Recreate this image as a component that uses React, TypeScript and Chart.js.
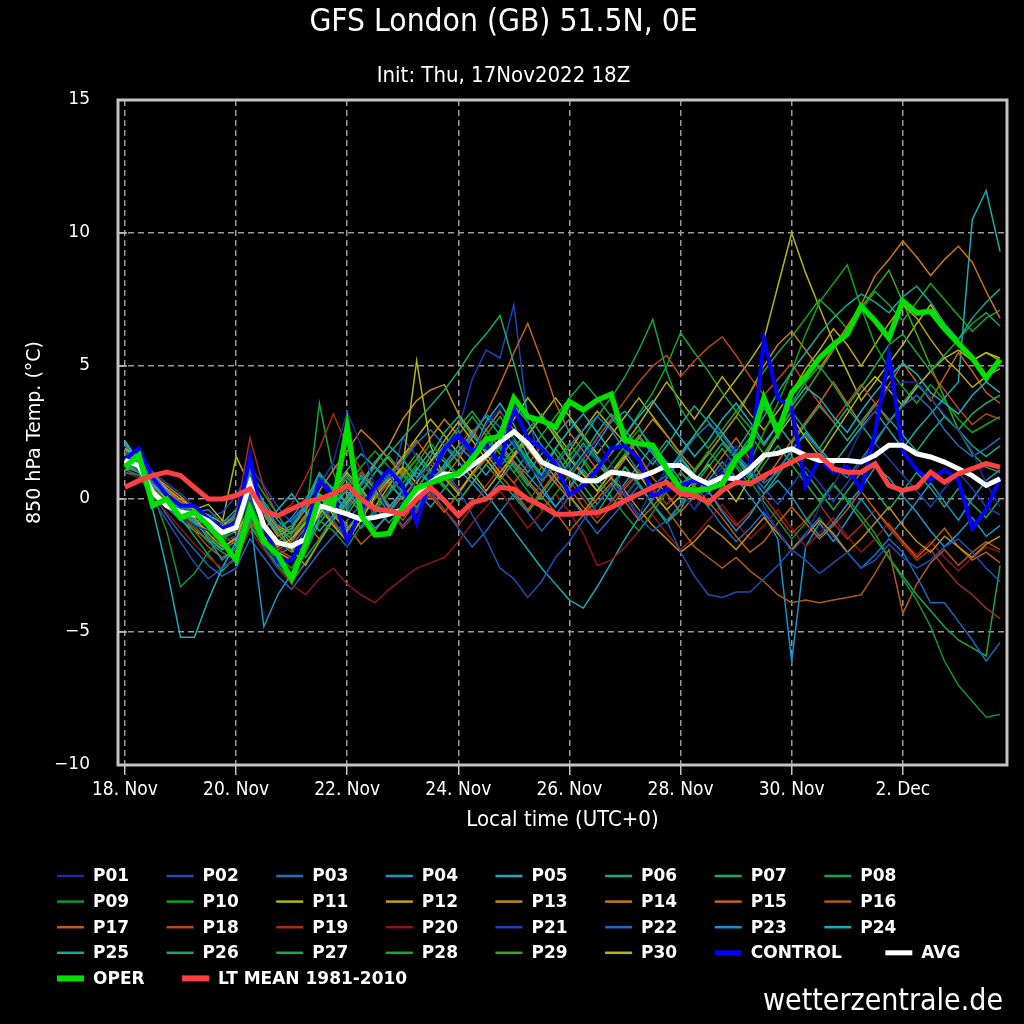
import React, { useEffect, useRef } from 'react';
import { Chart, registerables } from 'chart.js';

Chart.register(...registerables);

// ---------- axis categories ----------
const FORECAST_HOURS = [0, 6, 12, 18, 24, 30, 36, 42, 48, 54, 60, 66, 72, 78, 84, 90, 96, 102, 108, 114, 120, 126, 132, 138, 144, 150, 156, 162, 168, 174, 180, 186, 192, 198, 204, 210, 216, 222, 228, 234, 240, 246, 252, 258, 264, 270, 276, 282, 288, 294, 300, 306, 312, 318, 324, 330, 336, 342, 348, 354, 360, 366, 372, 378];
const TICK_HOURS = [0, 48, 96, 144, 192, 240, 288, 336];
const TICK_LABELS = ['18. Nov', '20. Nov', '22. Nov', '24. Nov', '26. Nov', '28. Nov', '30. Nov', '2. Dec'];
const Y_TICKS = [-10, -5, 0, 5, 10, 15];

// ---------- ensemble members ----------
const P01 = [1.6, 1.3, 0.4, -0.3, -0.7, -1.0, -1.2, -1.6, -1.4, 0.8, -0.9, -2.0, -1.7, -1.0, 0.5, 1.4, 3.3, 2.0, 0.5, -0.5, -0.1, 0.7, 1.3, 1.9, 2.3, 1.6, 2.8, 3.4, 2.1, 1.2, 0.8, 1.5, 0.9, 1.6, 2.2, 1.3, 0.2, -0.6, 0.4, 1.1, 0.3, -0.4, 0.6, 1.2, 2.0, 1.4, -0.3, -1.2, -2.0, -1.4, -0.3, 0.5, 1.5, 2.6, 3.3, 4.2, 4.4, 4.4, 3.8, 3.2, 2.6, 1.8, 0.6, -0.3];
const P02 = [1.4, 1.1, 0.0, -0.8, -1.6, -2.4, -3.0, -2.6, -2.2, 0.2, -1.8, -2.6, -2.2, -1.2, -0.2, -0.8, -1.5, -0.6, 0.3, 0.9, 0.2, -0.4, 0.6, 1.0, 0.4, -0.6, -1.5, -2.6, -3.0, -3.7, -3.1, -2.2, -1.6, -0.8, -0.2, 0.5, 0.1, -0.7, -1.2, -0.8, -2.0, -2.9, -3.6, -3.7, -3.5, -3.5, -3.0, -2.5, -1.9, -2.3, -2.8, -2.4, -2.0, -2.6, -2.3, -1.7, -2.2, -2.6, -2.3, -1.8, -1.5, -2.0, -2.6, -3.1];
const P03 = [1.8, 1.5, 0.6, 0.2, -0.3, -0.5, -0.4, -0.9, -0.6, 1.1, -0.3, -1.0, -0.8, -0.2, 0.6, 0.1, -0.3, 0.5, 1.2, 0.8, 1.4, 2.1, 2.6, 2.0, 1.6, 2.4, 3.2, 2.7, 2.0, 1.3, 0.7, 1.2, 2.0, 2.6, 3.1, 2.6, 1.8, 1.0, 0.5, 0.9, 1.6, 2.3, 2.8, 2.4, 1.7, 1.1, 0.6, 1.0, 1.9, 2.4, 1.8, 1.2, 0.8, 1.5, 2.2, 2.9, 3.5, 3.9, 3.4, 2.6, 2.0, 1.6, 1.9, 2.3];
const P04 = [2.0, 1.6, 0.9, 0.3, -0.4, -0.8, -1.5, -2.3, -1.8, -0.6, -4.8, -3.6, -2.8, -1.9, -0.7, -0.2, 0.3, -0.4, -1.1, -0.6, 0.4, 1.0, 0.6, 1.3, 2.0, 1.5, 0.9, 1.6, 2.2, 1.4, 0.5, -0.3, 0.4, 1.3, 2.1, 2.9, 3.3, 2.7, 1.8, 1.1, 0.5, 0.9, 0.3, -0.5, -1.2, -0.6, 0.2, 0.7, 0.1, -0.7, -1.4, -0.9, -0.2, 0.4, 1.2, 0.8, 0.1, -0.5, -1.2, -1.8, -1.3, -0.7, -1.4, -1.0];
const P05 = [2.2, 1.4, -0.4, -2.6, -5.2, -5.2, -3.8, -2.6, -1.6, -0.5, -1.2, -0.4, 0.2, -0.5, -1.2, -0.6, 0.1, 0.9, 0.4, -0.3, 0.3, 1.1, 1.8, 1.4, 0.8, 1.7, 2.9, 3.6, 2.8, 1.6, 0.9, 1.9, 2.6, 3.2, 2.5, 1.8, 2.4, 3.1, 3.7, 3.0, 2.3, 1.6, 2.2, 3.0, 3.6, 2.9, 2.1, 2.8, 3.5, 4.2, 3.8, 3.1, 2.5, 3.3, 4.0, 4.6, 5.1, 4.7, 4.0, 3.6, 3.2, 3.9, 4.4, 4.0];
const P06 = [1.5, 1.2, 0.5, 0.1, -0.4, -0.9, -0.6, -1.1, -0.7, 0.6, -0.5, -1.3, -1.0, -0.3, 0.9, 0.4, -0.2, 0.6, 1.4, 2.0, 1.5, 0.8, 1.6, 2.5, 3.1, 2.4, 1.8, 2.6, 3.5, 2.9, 2.0, 1.4, 1.0, 1.7, 2.5, 3.2, 2.6, 1.9, 1.3, 2.0, 2.8, 3.5, 2.9, 2.2, 1.6, 2.3, 3.1, 4.0, 4.8, 5.5, 6.2, 6.8, 7.3, 7.7, 7.4, 7.0, 7.6, 8.0, 7.4, 6.6, 6.0, 6.8, 7.4, 7.9];
const P07 = [1.3, 1.0, 0.3, -0.2, -0.8, -0.6, -1.0, -1.4, -1.1, 0.4, -0.9, -1.6, -1.2, -0.1, 1.0, 0.3, -0.6, 0.2, 1.0, 1.7, 2.3, 2.9, 3.5, 4.1, 4.8, 5.6, 6.2, 6.9, 5.1, 3.2, 2.4, 1.7, 0.9, 0.2, -0.5, 0.3, 1.2, 0.6, -0.2, -0.9, -0.4, 0.6, 1.4, 2.1, 1.5, 0.8, 1.6, 2.5, 3.3, 2.6, 1.9, 2.7, 3.4, 2.8, 2.1, 2.9, 3.6, 4.3, 3.8, 3.1, 2.6, 3.2, 3.6, 3.9];
const P08 = [1.7, 1.4, 0.7, 0.2, -0.2, -0.5, -0.9, -1.2, -0.8, 1.0, 0.2, -0.6, -1.4, -2.2, -1.5, -0.7, 0.0, 0.8, 0.2, -0.5, 0.4, 1.2, 0.6, 1.1, 1.8, 2.4, 1.9, 1.2, 1.9, 2.6, 3.2, 2.4, 1.6, 2.3, 3.1, 3.8, 4.6, 5.6, 6.75, 4.8, 3.4, 2.6, 1.9, 2.6, 3.3, 2.7, 2.0, 2.8, 3.6, 4.4, 5.0, 4.3, 3.5, 4.2, 5.0, 5.8, 6.2, 5.5, 4.8, 5.4, 6.0, 6.6, 7.0, 6.5];
const P09 = [1.0, 0.9, 0.2, -1.2, -3.3, -2.8, -2.0, -1.5, -1.0, 0.1, -1.5, -2.2, -2.6, -1.7, -0.8, -1.2, -1.8, -1.0, -0.4, 0.2, 0.8, 1.5, 1.0, 0.4, 0.9, 1.6, 2.2, 1.7, 1.0, 0.3, -0.4, 0.2, 0.9, 1.5, 0.8, 0.1, -0.6, -1.2, -0.5, 0.3, 1.0, 0.4, -0.3, 0.5, 1.3, 0.7, -0.1, -0.8, -1.5, -0.9, -0.2, 0.5, 0.0, -0.6, -1.3, -2.2, -3.0, -3.8, -4.8, -6.1, -7.0, -7.6, -8.2, -8.1];
const P10 = [1.2, 1.1, 0.4, -0.1, -0.6, -1.1, -1.6, -2.0, -2.3, -1.0, -1.6, -2.4, -2.9, -2.0, -0.9, -0.2, 0.5, 1.2, 1.8, 1.2, 0.6, 1.3, 2.1, 1.5, 0.9, 1.6, 2.4, 3.1, 2.3, 1.5, 0.8, 1.4, 2.1, 1.4, 0.6, 1.3, 2.0, 2.6, 2.0, 1.2, 0.5, 1.1, 1.8, 1.2, 0.5, 1.4, 2.5, 3.6, 4.8, 6.2, 7.4, 8.1, 8.8, 7.2, 5.8, 4.9, 4.2, 3.6, 4.3, 3.7, 3.0, 2.5, 2.8, 3.1];
const P11 = [1.9, 1.6, 0.8, 0.4, 0.0, -0.4, -0.2, -0.8, -1.3, -0.4, -1.1, -1.8, -1.5, -0.9, -0.3, -1.0, -1.6, -0.8, 0.1, 0.7, 1.2, 5.2, 2.0, 0.8, 0.2, 1.0, 1.6, 2.2, 3.0, 3.8, 3.1, 2.3, 1.5, 0.9, 0.3, 1.0, 1.6, 0.9, 0.2, -0.4, 0.1, 0.7, 1.3, 0.6, -0.1, 0.8, 1.5, 2.4, 3.1, 2.3, 1.6, 2.4, 3.2, 4.0, 4.6, 4.1, 3.5, 4.2, 4.8, 5.3, 5.6, 5.2, 5.5, 5.3];
const P12 = [1.4, 1.3, 0.6, 0.0, -0.5, -0.7, -1.3, -1.8, -1.5, -0.2, -1.4, -2.0, -2.3, -1.4, -0.6, 0.3, 1.0, 0.4, -0.3, 0.5, 1.2, 0.6, 1.4, 2.2, 2.9, 2.2, 1.5, 0.8, 1.6, 2.4, 3.1, 2.5, 1.8, 2.6, 3.3, 2.7, 2.1, 2.8, 3.6, 4.4, 3.7, 3.0, 3.8, 4.6, 3.9, 3.2, 2.6, 3.3, 4.0, 4.9, 5.6, 6.4, 5.8, 5.0, 5.8, 6.6, 7.3, 6.8, 6.0, 5.3, 4.8, 4.2, 4.6, 4.9];
const P13 = [1.1, 1.2, 0.5, 0.0, -0.3, -0.8, -1.2, -1.0, -0.6, 0.7, -0.4, -1.1, -1.9, -2.5, -1.6, -0.8, -0.1, 0.6, 1.3, 2.0, 3.0, 3.7, 4.1, 4.3, 3.2, 2.5, 1.7, 1.0, 1.6, 2.2, 1.5, 0.8, 0.1, -0.5, 0.2, 0.8, 0.3, -0.4, -1.0, -1.5, -2.0, -1.6, -1.0, -1.4, -1.9, -1.3, -0.7, -1.3, -1.9, -1.4, -0.8, -1.3, -2.0, -1.5, -0.9, -0.3, -1.0, -1.6, -2.0, -1.4, -1.8, -2.2, -1.7, -1.4];
const P14 = [1.6, 1.5, 0.9, 0.5, 0.1, -0.4, -0.9, -1.3, -1.0, 0.3, -0.6, -1.4, -1.1, -0.4, 0.3, 1.1, 1.8, 2.6, 2.1, 1.5, 0.9, 1.5, 2.3, 3.0, 2.4, 1.8, 2.6, 3.3, 2.6, 1.9, 1.2, 0.6, 0.0, 0.7, 1.3, 0.8, 1.5, 2.3, 3.0, 2.4, 1.7, 1.1, 1.7, 2.4, 3.1, 4.0, 5.0, 5.8, 6.3, 5.6, 4.9, 5.7, 6.5, 7.3, 8.4, 9.0, 9.7, 9.1, 8.4, 9.0, 9.5, 8.9, 7.8, 6.8];
const P15 = [1.3, 1.4, 0.8, 0.3, -0.2, -0.5, -0.9, -1.6, -1.4, -0.3, -1.2, -1.9, -1.6, -0.9, -1.5, -0.7, 0.1, -0.5, 0.2, 0.9, 1.5, 2.2, 1.5, 0.8, 1.5, 2.3, 3.2, 4.3, 5.5, 6.6, 5.2, 3.6, 2.5, 1.8, 1.1, 1.7, 2.4, 1.6, 0.8, 0.2, -0.5, 0.1, 0.9, 1.6, 2.3, 1.5, 0.7, 1.4, 2.2, 2.9, 3.6, 4.4, 3.6, 2.8, 3.5, 4.3, 5.1, 4.4, 3.7, 4.6, 5.5, 4.8, 4.0, 3.6];
const P16 = [1.5, 1.3, 0.7, 0.2, -0.2, -0.6, -0.8, -1.4, -1.7, -0.8, -1.5, -2.1, -1.8, -1.0, -0.2, -0.9, -1.5, -0.6, 0.0, 0.6, 1.1, 0.6, 0.1, -0.5, 0.2, 0.9, 1.5, 0.9, 0.3, -0.4, 0.3, 1.0, 0.4, -0.3, -0.9, -0.3, 0.4, 1.0, 0.3, -0.4, -1.1, -1.8, -2.2, -2.6, -2.2, -2.7, -3.1, -3.6, -3.9, -3.8, -3.9, -3.8, -3.7, -3.6, -2.8, -1.9, -4.3, -3.2, -2.4, -1.9, -2.5, -2.0, -1.6, -1.9];
const P17 = [1.7, 1.5, 1.0, 0.4, -0.1, -0.3, -0.7, -1.1, -0.5, 0.8, -0.3, -1.0, -1.5, -0.6, 0.2, -0.4, -1.0, -1.7, -1.2, -0.5, 0.1, 0.7, 1.3, 0.9, 0.3, 0.9, 1.5, 2.1, 1.4, 0.7, 0.1, -0.5, -1.2, -0.6, 0.0, 0.6, -0.1, -0.8, -0.3, 0.4, 1.0, 0.5, -0.1, -0.7, -1.4, -2.0, -1.6, -0.9, -0.3, -0.9, -1.5, -1.0, -0.4, 0.3, -0.4, -1.0, -1.6, -2.2, -1.7, -1.1, -1.8, -2.3, -2.0, -2.4];
const P18 = [1.2, 1.0, 0.3, -0.2, -0.6, -1.2, -1.8, -2.2, -1.9, -0.9, -1.5, -1.9, -2.2, -1.5, -0.9, -0.3, 0.4, 1.0, 0.5, -0.2, -0.8, -0.1, 0.6, 1.3, 2.0, 2.6, 1.9, 1.2, 0.6, 1.3, 2.0, 1.4, 0.8, 1.5, 2.3, 3.0, 3.7, 4.4, 5.0, 5.4, 4.6, 5.2, 5.7, 6.1, 5.4, 4.6, 3.9, 4.5, 5.1, 4.3, 3.6, 2.9, 3.6, 4.3, 3.6, 2.9, 3.5, 4.2, 4.8, 4.1, 3.4, 2.8, 3.2, 3.0];
const P19 = [1.4, 1.2, 0.6, 0.1, -0.5, -1.0, -1.6, -1.2, -0.6, 2.3, 0.4, -0.6, -0.2, 0.8, 1.9, 3.2, 2.0, 1.1, 0.3, -0.4, -1.1, -0.5, 0.2, -0.4, -1.0, -0.3, 0.5, 1.2, 0.6, -0.1, 0.6, 1.3, 0.7, 0.0, -0.7, -0.1, 0.5, 1.1, 0.4, -0.2, 0.3, 0.9, 0.3, -0.4, -1.0, -0.5, 0.1, -0.6, -1.3, -0.8, -0.2, -0.9, -1.5, -1.0, -0.4, -1.1, -1.7, -2.3, -1.9, -2.6, -3.2, -3.6, -4.1, -4.5];
const P20 = [1.0, 0.8, 0.1, -0.5, -1.1, -1.7, -2.2, -2.6, -2.3, -1.2, -1.9, -2.6, -3.2, -3.6, -3.0, -2.6, -3.2, -3.6, -3.9, -3.4, -3.0, -2.6, -2.4, -2.2, -1.6, -0.9, -0.3, 0.3, -0.4, -1.1, -0.5, 0.2, -0.5, -1.3, -2.5, -2.3, -1.8, -1.2, -0.6, -1.3, -1.9, -1.4, -0.8, -0.2, -0.9, -1.5, -1.0, -0.4, -1.1, -1.8, -1.3, -0.7, -1.4, -2.0, -1.5, -0.9, -1.6, -2.1, -1.6, -2.2, -2.7, -2.2, -1.8, -2.0];
const P21 = [1.9, 1.7, 1.0, 0.6, 0.2, -0.3, -0.7, -0.5, 0.1, 1.2, 0.5, -0.3, -0.9, -0.2, 0.6, 1.3, 0.7, 0.0, -0.6, 0.3, 2.3, 1.6, 0.9, 1.7, 2.6, 4.5, 5.6, 5.3, 7.3, 3.0, 1.4, 0.6, 1.3, 2.0, 1.4, 0.7, 0.1, 0.8, 1.5, 0.9, 0.3, -0.4, 0.3, 1.0, 1.7, 1.1, 0.4, -0.2, 0.5, 1.2, 0.6, -0.1, 0.6, 1.4, 2.1, 1.5, 0.9, 0.3, -0.3, 0.4, 1.0, 0.4, -0.3, -0.6];
const P22 = [1.1, 0.9, 0.2, -0.6, -1.3, -1.9, -2.5, -2.9, -2.6, -1.5, -2.2, -2.9, -3.4, -2.7, -2.0, -1.4, -0.8, -0.2, 0.4, -0.3, -1.0, -0.4, 0.3, -0.4, -1.1, -1.8, -1.2, -0.5, 0.2, -0.5, -1.2, -0.6, 0.1, -0.6, -1.3, -0.7, -0.1, 0.5, -0.2, -0.8, -0.2, 0.4, -0.3, -1.0, -1.6, -1.1, -0.5, -1.2, -1.9, -1.3, -0.7, -1.4, -2.0, -2.6, -2.1, -1.5, -2.0, -2.9, -3.9, -3.9, -4.6, -5.3, -6.1, -5.4];
const P23 = [1.6, 1.4, 0.5, 0.0, -0.5, -1.0, -0.7, -1.3, -0.9, 0.5, -0.5, -1.2, -0.7, 0.0, 0.8, 0.2, -0.4, -1.1, -0.5, 0.2, 0.9, 0.3, -0.3, 0.4, 1.1, 0.6, 0.0, 0.7, 1.4, 0.9, 0.3, -0.3, 0.4, 1.1, 0.5, -0.1, 0.6, 1.3, 2.0, 1.4, 0.7, 0.0, 0.7, 1.4, 0.8, 0.1, -0.6, -1.5, -6.1, -1.8, -0.9, -1.6, -0.8, 0.0, -0.7, -1.4, -0.8, -0.1, 0.6, -0.1, -0.8, 0.0, 0.7, 1.1];
const P24 = [2.1, 1.5, 0.4, -0.3, -0.8, -1.2, -1.5, -1.9, -1.4, 0.9, -0.2, -1.0, -1.7, -1.1, -0.4, 0.4, 1.1, 1.7, 1.2, 0.6, 0.0, 0.7, 1.4, 2.0, 1.4, 0.8, 0.2, -0.5, -1.2, -1.9, -2.6, -3.2, -3.8, -4.1, -3.3, -2.4, -1.5, -0.7, 0.0, 0.8, 1.5, 0.9, 0.3, 1.0, 1.6, 1.0, 0.4, 1.1, 1.8, 2.5, 1.9, 1.3, 2.0, 2.7, 3.3, 2.6, 1.9, 2.6, 3.2, 3.8, 4.4, 10.5, 11.6, 9.3];
const P25 = [1.3, 1.1, 0.6, 0.1, -0.3, -0.8, -1.3, -0.9, -0.4, 0.8, -0.1, -0.8, -1.3, -0.7, 0.1, -0.5, -1.1, -0.5, 0.2, 0.8, 0.3, -0.3, 0.5, 1.2, 1.8, 2.5, 3.1, 2.4, 1.7, 1.0, 1.7, 2.4, 3.0, 2.3, 1.6, 0.9, 1.6, 2.3, 1.7, 1.0, 1.7, 2.4, 3.1, 2.5, 1.8, 2.6, 3.4, 2.8, 2.1, 2.8, 3.5, 2.9, 2.2, 2.9, 3.6, 3.0, 2.4, 1.8, 2.5, 3.1, 2.6, 2.0, 1.6, 2.0];
const P26 = [1.8, 1.6, 0.9, 0.3, -0.1, -0.4, -0.8, -1.4, -1.1, 0.1, -0.9, -1.6, -2.0, -1.2, -0.5, 0.2, 0.9, 0.3, -0.3, -0.9, -0.3, 0.4, 1.1, 0.5, -0.1, 0.6, 1.3, 2.0, 1.3, 0.6, 0.0, 0.7, 1.4, 2.1, 1.5, 0.8, 0.1, 0.8, 1.5, 2.2, 1.6, 0.9, 0.2, 0.9, 1.6, 0.9, 0.2, 0.9, 1.6, 1.0, 0.3, -0.4, 0.3, 1.0, 0.3, -0.4, 0.3, 1.0, 0.4, -0.3, 0.4, -0.2, -0.7, 0.0];
const P27 = [1.5, 1.2, 0.4, -0.2, -0.7, -1.4, -2.1, -2.7, -2.2, -1.0, -1.8, -2.5, -3.1, -2.4, -1.6, -0.8, -0.1, 0.6, 1.2, 0.6, 0.0, 0.7, 1.4, 2.0, 2.7, 3.3, 2.6, 1.9, 1.2, 0.5, 1.2, 1.9, 1.2, 0.5, -0.2, 0.5, 1.2, 0.5, -0.2, -0.9, -0.2, 0.5, 1.2, 1.9, 1.2, 0.5, 1.3, 2.0, 1.3, 0.6, -0.1, 0.6, -0.1, -0.8, -1.5, -2.2, -2.9, -3.6, -4.2, -4.8, -5.3, -5.6, -5.9, -2.5];
const P28 = [1.6, 1.3, 0.8, 0.3, -0.1, -0.6, -1.0, -1.5, -1.2, 0.6, -0.2, -1.1, -1.5, -0.8, 3.6, 1.0, -0.4, 0.3, 1.0, 1.6, 1.0, 0.4, 1.1, 1.8, 2.4, 3.1, 2.4, 1.7, 1.0, 1.7, 2.4, 3.1, 3.8, 4.4, 3.8, 3.1, 2.4, 3.2, 4.0, 5.0, 6.25, 5.5, 4.8, 4.0, 3.3, 4.0, 4.8, 5.5, 6.1, 6.8, 7.5, 7.0, 6.4, 7.1, 7.8, 7.3, 6.7, 7.4, 8.1, 7.5, 6.9, 6.3, 6.8, 7.1];
const P29 = [1.2, 1.0, 0.4, -0.1, -0.5, -0.9, -1.4, -1.9, -1.6, 0.4, -0.5, -1.3, -1.9, -1.3, -0.6, 0.1, 0.8, 0.2, -0.4, 0.3, 1.0, 1.7, 1.1, 0.5, -0.1, 0.6, 1.3, 0.7, 0.1, -0.5, 0.2, 0.9, 1.6, 1.0, 0.3, 1.0, 1.7, 2.4, 1.7, 1.0, 0.3, 1.0, 1.7, 2.4, 3.1, 2.4, 1.7, 2.5, 3.3, 4.0, 4.8, 5.6, 6.4, 7.2, 7.9, 8.6, 7.4, 6.2, 5.0, 3.8, 2.6, 1.7, 1.2, 1.0];
const P30 = [1.9, 1.4, 0.7, 0.3, -0.2, -0.4, -0.6, -0.9, 1.6, 0.5, -0.4, -1.0, -1.3, -0.6, 0.1, -0.6, -1.2, -0.5, 0.2, 0.9, 1.6, 2.3, 3.0, 2.4, 1.7, 1.0, 0.3, 1.0, 1.7, 2.4, 3.1, 3.8, 3.1, 2.4, 1.7, 2.4, 3.1, 3.8, 3.1, 2.4, 1.7, 2.4, 3.1, 3.8, 4.5, 5.2, 6.0, 8.0, 10.0, 8.5, 7.2, 5.9, 4.8, 3.7, 4.4, 5.1, 5.8, 6.6, 7.3, 6.5, 5.8, 5.2, 5.5, 5.2];

// ---------- highlighted series ----------
const CONTROL = [1.5, 1.9, 0.8, 0.15, -0.25, -0.25, -0.75, -1.1, -0.9, 1.6, -1.0, -2.35, -2.3, -1.3, 0.7, 0.15, -1.6, -0.4, 0.5, 1.1, 0.5, -0.9, 0.8, 1.9, 2.4, 1.8, 2.0, 1.3, 3.4, 2.3, 1.9, 1.3, 0.15, 0.5, 1.1, 1.9, 2.0, 1.5, 0.1, 0.35, 0.5, 0.7, 0.5, 0.95, 0.6, 1.2, 6.0, 3.8, 3.4, 0.5, 1.5, 1.0, 1.2, 0.35, 2.5, 5.4, 1.8, 1.1, 0.7, 1.1, 0.7, -1.1, -0.4, 0.8];
const AVG = [1.45, 1.25, 0.25, -0.25, -0.5, -0.57, -0.82, -1.26, -1.07, 0.57, -1.0, -1.64, -1.77, -1.5, -0.25, -0.4, -0.57, -0.76, -0.69, -0.57, -0.4, 0.19, 0.63, 0.95, 0.88, 1.26, 1.64, 2.15, 2.53, 2.08, 1.39, 1.14, 0.95, 0.69, 0.69, 1.01, 0.95, 0.82, 1.01, 1.26, 1.26, 0.82, 0.57, 0.82, 0.76, 1.14, 1.64, 1.72, 1.89, 1.64, 1.45, 1.45, 1.45, 1.39, 1.64, 2.02, 2.02, 1.7, 1.58, 1.39, 1.14, 0.88, 0.51, 0.76];
const OPER = [1.2, 1.65, -0.25, 0.0, -0.7, -0.5, -1.0, -1.6, -2.3, -0.35, -1.6, -2.1, -3.0, -1.7, 0.1, -0.2, 2.7, -0.6, -1.35, -1.3, -0.3, 0.4, 0.6, 0.8, 0.95, 1.5, 2.25, 2.35, 3.8, 3.1, 2.95, 2.7, 3.66, 3.35, 3.72, 3.94, 2.21, 2.08, 2.02, 1.14, 0.38, 0.32, 0.38, 0.57, 1.52, 2.02, 3.79, 2.5, 4.0, 4.6, 5.3, 5.8, 6.2, 7.25, 6.7, 6.05, 7.45, 7.0, 7.05, 6.4, 5.85, 5.3, 4.55, 5.25];
const LT_MEAN = [0.44, 0.69, 0.88, 1.01, 0.88, 0.44, 0.0, 0.0, 0.13, 0.38, -0.44, -0.63, -0.38, -0.13, 0.0, 0.2, 0.51, 0.0, -0.38, -0.44, -0.57, 0.0, 0.44, -0.06, -0.63, -0.13, 0.0, 0.44, 0.38, 0.0, -0.25, -0.57, -0.57, -0.53, -0.51, -0.32, -0.06, 0.19, 0.44, 0.63, 0.19, 0.13, -0.13, 0.32, 0.63, 0.57, 0.88, 1.14, 1.39, 1.64, 1.64, 1.14, 1.01, 1.01, 1.33, 0.51, 0.32, 0.44, 1.01, 0.63, 0.95, 1.14, 1.33, 1.2];

const MEMBERS = [P01, P02, P03, P04, P05, P06, P07, P08, P09, P10, P11, P12, P13, P14, P15, P16, P17, P18, P19, P20, P21, P22, P23, P24, P25, P26, P27, P28, P29, P30];
const MEMBER_LABELS = ['P01', 'P02', 'P03', 'P04', 'P05', 'P06', 'P07', 'P08', 'P09', 'P10', 'P11', 'P12', 'P13', 'P14', 'P15', 'P16', 'P17', 'P18', 'P19', 'P20', 'P21', 'P22', 'P23', 'P24', 'P25', 'P26', 'P27', 'P28', 'P29', 'P30'];
const MEMBER_COLORS = ['#1c2c9c', '#1f4fb4', '#1f72bc', '#1c96c8', '#18b0bc', '#18a890', '#18a868', '#14a444', '#129630', '#10a414', '#b4b414', '#c0a414', '#c08c14', '#c87814', '#c06414', '#b05a14', '#c05c14', '#b84818', '#a82c18', '#901414', '#1f40b8', '#1f68c0', '#1c92cc', '#18acb4', '#18a88c', '#18a86c', '#18a84c', '#14a82c', '#38a814', '#b4b414'];

const COND = "'DejaVu Sans Condensed', 'Liberation Sans Narrow', 'DejaVu Sans', sans-serif";
const REG = "'DejaVu Sans', sans-serif";

const toPoints = (vals: number[]) => FORECAST_HOURS.map((h, i) => ({ x: h, y: vals[i] }));

const bgPlugin = {
  id: 'bg',
  beforeDraw(chart: any) {
    const { ctx, width, height } = chart;
    ctx.save();
    ctx.fillStyle = '#000';
    ctx.fillRect(0, 0, width, height);
    ctx.restore();
  },
};

const framePlugin = {
  id: 'frame',
  afterDatasetsDraw(chart: any) {
    const { ctx, chartArea } = chart;
    const { left, right, top, bottom } = chartArea;
    const y = chart.scales.y;
    ctx.save();
    ctx.strokeStyle = '#c4c4c4';
    ctx.lineWidth = 3;
    ctx.setLineDash([]);
    ctx.strokeRect(left, top, right - left, bottom - top);
    ctx.lineWidth = 1.5;
    Y_TICKS.forEach((v) => {
      const py = y.getPixelForValue(v);
      ctx.beginPath();
      ctx.moveTo(left, py);
      ctx.lineTo(left + 9, py);
      ctx.stroke();
    });
    ctx.restore();
  },
};

const legendPlugin = {
  id: 'flowLegend',
  afterDraw(chart: any) {
    const { ctx } = chart;
    const X0 = 57, Y0 = 876, ROW = 25.6, SAMPLE = 27, TEXT_GAP = 9, GAP = 37.5, MAX_X = 990;
    ctx.save();
    ctx.font = `bold 17px ${REG}`;
    ctx.textBaseline = 'middle';
    ctx.textAlign = 'left';
    let x = X0;
    let y = Y0;
    chart.data.datasets.forEach((ds: any) => {
      const tw = ctx.measureText(ds.label).width;
      const w = SAMPLE + TEXT_GAP + tw;
      if (x + w > MAX_X) {
        x = X0;
        y += ROW;
      }
      ctx.strokeStyle = ds.borderColor;
      ctx.lineWidth = ds.legendWidth;
      ctx.beginPath();
      ctx.moveTo(x, y);
      ctx.lineTo(x + SAMPLE, y);
      ctx.stroke();
      ctx.fillStyle = '#ffffff';
      ctx.fillText(ds.label, x + SAMPLE + TEXT_GAP, y + 1);
      x += w + GAP + (tw > 60 ? 6 : 0);
    });
    ctx.font = `30px ${COND}`;
    ctx.textAlign = 'right';
    ctx.fillText('wetterzentrale.de', 1003, 1002);
    ctx.restore();
  },
};

export default function App() {
  const ref = useRef<HTMLCanvasElement | null>(null);

  useEffect(() => {
    document.body.style.margin = '0';
    document.body.style.background = '#000';
    const canvas = ref.current;
    if (!canvas) return;

    const memberSets = MEMBERS.map((vals, i) => ({
      label: MEMBER_LABELS[i],
      data: toPoints(vals),
      borderColor: MEMBER_COLORS[i],
      borderWidth: 1.5,
      legendWidth: 2.5,
      pointRadius: 0,
      fill: false,
      tension: 0,
      order: 10,
    }));

    const chart = new Chart(canvas, {
      type: 'line',
      data: {
        datasets: [
          ...memberSets,
          { label: 'CONTROL', data: toPoints(CONTROL), borderColor: '#0000ff', borderWidth: 4, legendWidth: 5, pointRadius: 0, fill: false, tension: 0, order: 4 },
          { label: 'AVG', data: toPoints(AVG), borderColor: '#ffffff', borderWidth: 5, legendWidth: 5, pointRadius: 0, fill: false, tension: 0, order: 3 },
          { label: 'OPER', data: toPoints(OPER), borderColor: '#00e000', borderWidth: 5.5, legendWidth: 6, pointRadius: 0, fill: false, tension: 0, order: 2 },
          { label: 'LT MEAN 1981-2010', data: toPoints(LT_MEAN), borderColor: '#ff4040', borderWidth: 5, legendWidth: 6, pointRadius: 0, fill: false, tension: 0, order: 1 },
        ] as any,
      },
      options: {
        animation: false,
        responsive: false,
        maintainAspectRatio: false,
        devicePixelRatio: 1,
        layout: { padding: { left: 0, right: 17, top: 0, bottom: 184 } },
        plugins: {
          legend: { display: false },
          tooltip: { enabled: false },
          title: {
            display: true,
            text: 'GFS London (GB) 51.5N, 0E',
            color: '#ffffff',
            font: { family: COND, size: 31.5, weight: 'normal', lineHeight: 1.2 },
            padding: { top: 4, bottom: 0 },
          },
          subtitle: {
            display: true,
            text: 'Init: Thu, 17Nov2022 18Z',
            color: '#ffffff',
            font: { family: COND, size: 22, weight: 'normal', lineHeight: 1.2 },
            padding: { top: 21, bottom: 10.8 },
          },
        },
        scales: {
          x: {
            type: 'linear',
            min: -3,
            max: 381,
            afterBuildTicks: (s: any) => {
              s.ticks = TICK_HOURS.map((v) => ({ value: v }));
            },
            afterFit: (s: any) => {
              s.height = 75;
            },
            ticks: {
              color: '#ffffff',
              font: { family: COND, size: 19 },
              padding: 4,
              maxRotation: 0,
              autoSkip: false,
              callback: (_v: any, i: number) => TICK_LABELS[i],
            },
            grid: { color: '#9a9a9a', lineWidth: 1.5, drawTicks: true, tickLength: 10, tickColor: '#c4c4c4', tickWidth: 1.5 },
            border: { display: false, dash: [6, 4] },
            title: {
              display: true,
              text: 'Local time (UTC+0)',
              color: '#ffffff',
              font: { family: COND, size: 22 },
              padding: { top: 0, bottom: 6.8 },
            },
          },
          y: {
            type: 'linear',
            min: -10,
            max: 15,
            afterBuildTicks: (s: any) => {
              s.ticks = Y_TICKS.map((v) => ({ value: v }));
            },
            afterFit: (s: any) => {
              s.width = 118;
            },
            ticks: {
              color: '#ffffff',
              font: { family: REG, size: 17 },
              padding: 28,
              callback: (v: any) => (v < 0 ? '\u2212' + Math.abs(v) : String(v)),
            },
            grid: { color: '#9a9a9a', lineWidth: 1.5, drawTicks: false },
            border: { display: false, dash: [6, 4] },
            title: {
              display: true,
              text: '850 hPa Temp. (°C)',
              color: '#ffffff',
              font: { family: REG, size: 19 },
              padding: { top: 23.6, bottom: 0 },
            },
          },
        },
      } as any,
      plugins: [bgPlugin, framePlugin, legendPlugin],
    });

    return () => chart.destroy();
  }, []);

  return (
    <div style={{ width: 1024, height: 1024, background: '#000' }}>
      <canvas ref={ref} width={1024} height={1024} style={{ display: 'block' }} />
    </div>
  );
}
